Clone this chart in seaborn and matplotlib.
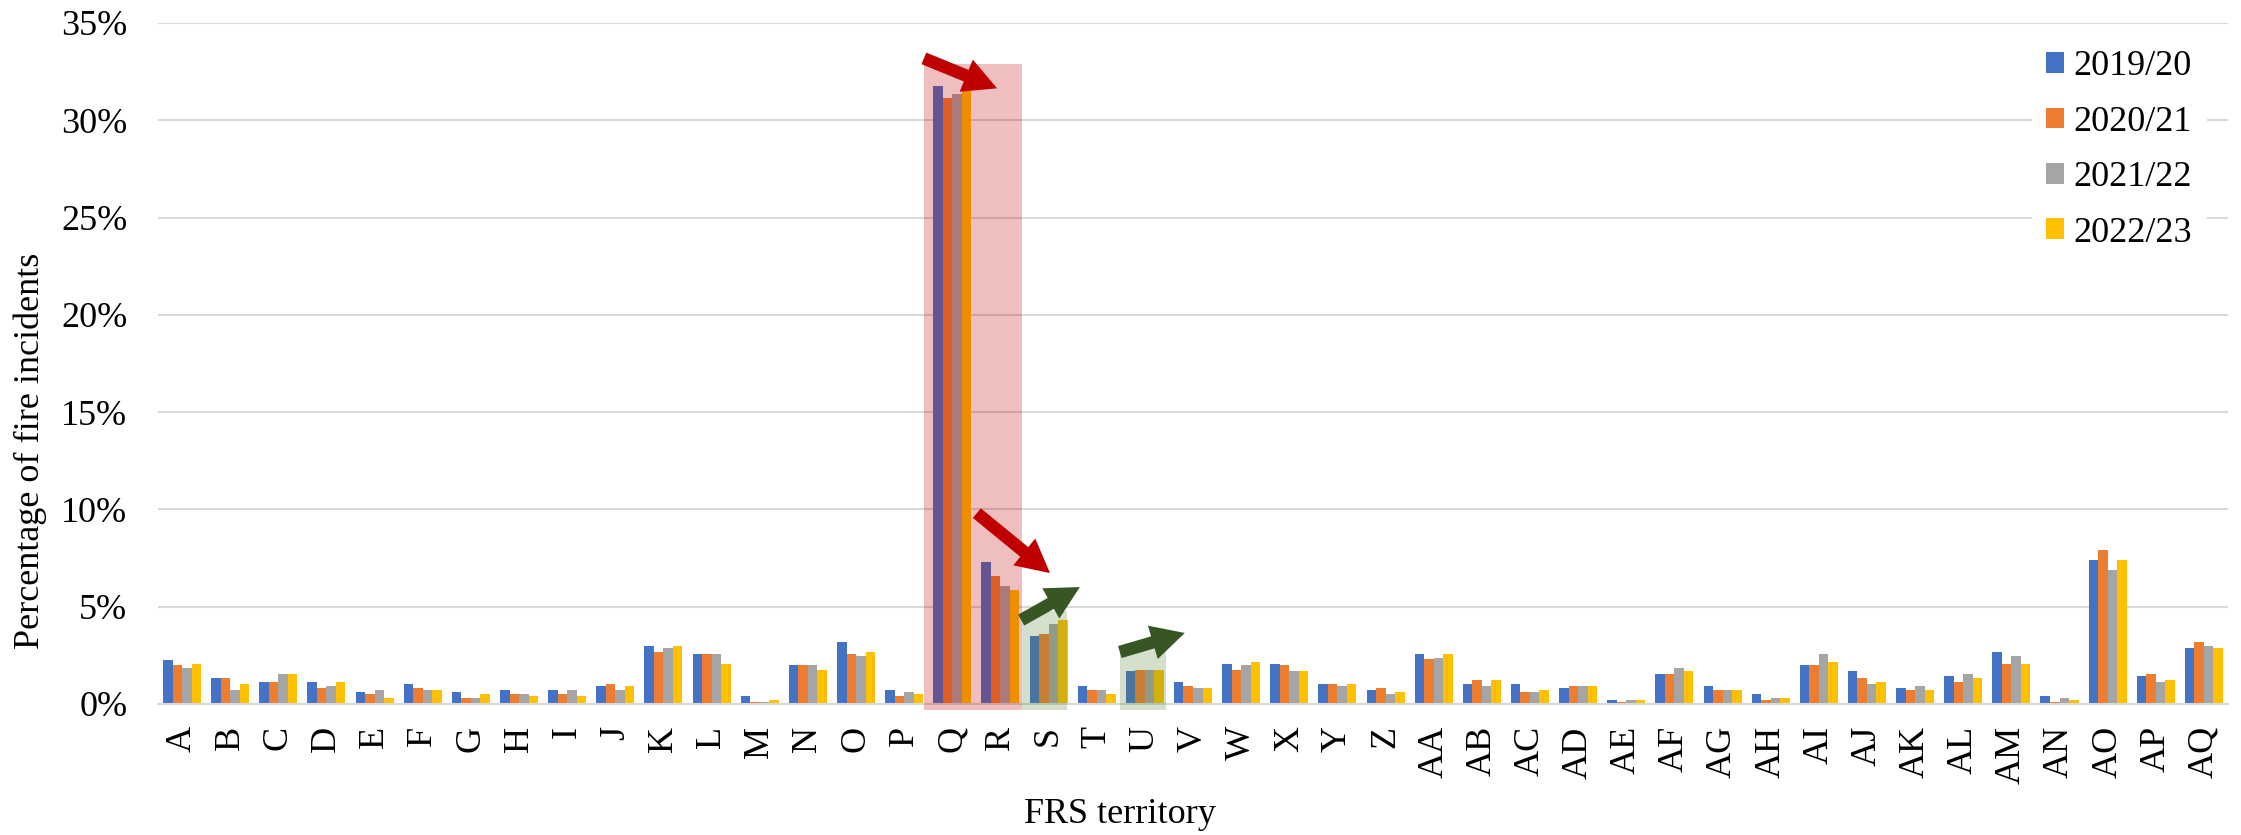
import numpy as np
import pandas as pd
import matplotlib
matplotlib.use("Agg")
import matplotlib.pyplot as plt
import seaborn as sns
from matplotlib.patches import Rectangle, FancyArrowPatch, Patch
from matplotlib.ticker import PercentFormatter

# ---------------- data ----------------
territories = [chr(c) for c in range(ord("A"), ord("Z") + 1)] + \
    ["AA", "AB", "AC", "AD", "AE", "AF", "AG", "AH", "AI", "AJ", "AK",
     "AL", "AM", "AN", "AO", "AP", "AQ"]
years = ["2019/20", "2020/21", "2021/22", "2022/23"]

pct_2019_20 = [2.27, 1.34, 1.15, 1.15, 0.64, 1.05, 0.64, 0.74, 0.74, 0.95,
               2.99, 2.58, 0.43, 1.98, 3.18, 0.74, 31.75, 7.28, 3.51, 0.95,
               1.67, 1.15, 2.08, 2.08, 1.05, 0.74, 2.58, 1.05, 1.05, 0.84,
               0.22, 1.56, 0.95, 0.53, 1.98, 1.67, 0.84, 1.46, 2.68, 0.43,
               7.39, 1.46, 2.89]
pct_2020_21 = [1.98, 1.34, 1.15, 0.84, 0.53, 0.84, 0.33, 0.53, 0.53, 1.05,
               2.68, 2.58, 0.12, 1.98, 2.58, 0.43, 31.13, 6.56, 3.59, 0.74,
               1.77, 0.95, 1.77, 1.98, 1.05, 0.84, 2.29, 1.25, 0.64, 0.95,
               0.12, 1.56, 0.74, 0.22, 1.98, 1.36, 0.74, 1.15, 2.08, 0.12,
               7.90, 1.56, 3.20]
pct_2021_22 = [1.87, 0.72, 1.56, 0.95, 0.74, 0.74, 0.33, 0.53, 0.74, 0.74,
               2.89, 2.58, 0.12, 1.98, 2.47, 0.64, 31.35, 6.07, 4.11, 0.74,
               1.77, 0.84, 1.98, 1.67, 0.95, 0.53, 2.37, 0.95, 0.64, 0.95,
               0.22, 1.87, 0.74, 0.33, 2.58, 1.05, 0.95, 1.56, 2.49, 0.33,
               6.87, 1.15, 2.99]
pct_2022_23 = [2.08, 1.05, 1.56, 1.15, 0.33, 0.74, 0.53, 0.43, 0.43, 0.95,
               2.99, 2.08, 0.22, 1.77, 2.68, 0.53, 31.55, 5.86, 4.31, 0.53,
               1.77, 0.84, 2.18, 1.67, 1.05, 0.64, 2.58, 1.25, 0.74, 0.95,
               0.22, 1.67, 0.74, 0.33, 2.18, 1.15, 0.74, 1.36, 2.08, 0.22,
               7.39, 1.25, 2.89]

y_ticks = [0, 5, 10, 15, 20, 25, 30, 35]

series = [pct_2019_20, pct_2020_21, pct_2021_22, pct_2022_23]
df = pd.DataFrame({
    "territory": np.tile(territories, len(years)),
    "year": np.repeat(years, len(territories)),
    "pct": np.concatenate(series),
})

colors = ["#4472C4", "#ED7D31", "#A5A5A5", "#FFC000"]

# ---------------- style ----------------
sns.set_theme(style="white")
plt.rcParams["font.family"] = ["Liberation Serif", "DejaVu Serif"]
plt.rcParams["text.color"] = "black"
FS = 26

fig = plt.figure(figsize=(22.41, 8.35), dpi=100)
ax = fig.add_axes([0.0705, 0.1569, 0.9237, 0.8156])

sns.barplot(data=df, x="territory", y="pct", hue="year", order=territories,
            hue_order=years, palette=colors, width=0.79, saturation=1,
            linewidth=0, ax=ax, legend=False, errorbar=None)

ax.set_xlim(-0.5, len(territories) - 0.5)
ax.set_ylim(0, 35)
ax.set_yticks(y_ticks)
ax.yaxis.set_major_formatter(PercentFormatter(decimals=0))
ax.yaxis.grid(True, color="#D9D9D9", lw=1.5)
ax.set_axisbelow(True)
for s in ["top", "right", "left"]:
    ax.spines[s].set_visible(False)
ax.spines["bottom"].set_color("#D9D9D9")
ax.spines["bottom"].set_linewidth(1.5)

ax.tick_params(axis="x", length=0, labelsize=FS, pad=16, colors="black",
               labelrotation=90)
ax.tick_params(axis="y", length=0, labelsize=FS, pad=22, colors="black")

ax.set_xlabel("FRS territory", fontsize=FS, color="black")
ax.xaxis.label.set_va("baseline")
ax.xaxis.set_label_coords(0.4647, -0.1747)
ax.set_ylabel("Percentage of fire incidents", fontsize=FS, color="black")
ax.yaxis.label.set_va("center")
ax.yaxis.set_label_coords(-0.0618, 0.3715)

# ---------------- legend ----------------
handles = [Patch(facecolor=c, edgecolor="none") for c in colors]
leg = ax.legend(handles, years, loc="upper left",
                bbox_to_anchor=(0.9053, 0.981), frameon=True, fontsize=FS,
                handlelength=0.5, handleheight=0.5, handletextpad=0.25,
                labelspacing=0.62, borderpad=0.4, borderaxespad=0)
leg.get_frame().set_facecolor("white")
leg.get_frame().set_edgecolor("none")
leg.get_frame().set_alpha(1)

# ---------------- highlight annotations ----------------
iq = territories.index("Q")
ir = territories.index("R")
is_ = territories.index("S")
iu = territories.index("U")

ax.add_patch(Rectangle((iq - 0.59, -0.3), (ir + 0.45) - (iq - 0.59), 33.2,
                       facecolor="#C00000", alpha=0.25, edgecolor="none",
                       clip_on=False, zorder=5))
ax.add_patch(Rectangle((is_ - 0.56, -0.3), 0.95, 5.08,
                       facecolor="#548235", alpha=0.25, edgecolor="none",
                       clip_on=False, zorder=5))
ax.add_patch(Rectangle((iu - 0.52, -0.3), 0.95, 3.3,
                       facecolor="#548235", alpha=0.25, edgecolor="none",
                       clip_on=False, zorder=5))

arrow_style = "simple,head_length=24,head_width=25,tail_width=9"
arrows = [
    ((iq - 0.59, 33.18), (iq + 0.93, 31.64), "#C00000"),
    ((ir - 0.49, 9.81), (ir + 1.03, 6.73), "#C00000"),
    ((is_ - 0.57, 4.31), (is_ + 0.65, 6.01), "#375623"),
    ((iu - 0.52, 2.67), (iu + 0.83, 3.65), "#375623"),
]
for (x0, y0), (x1, y1), col in arrows:
    ax.add_patch(FancyArrowPatch((x0, y0), (x1, y1), arrowstyle=arrow_style,
                                 mutation_scale=1, color=col, lw=0,
                                 shrinkA=0, shrinkB=0, zorder=6,
                                 clip_on=False))

fig.savefig("out.png", dpi=100)
